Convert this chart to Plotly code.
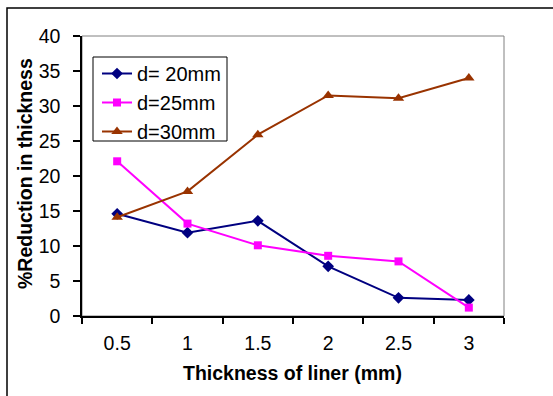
import plotly.graph_objects as go

# Liner thickness categories (mm)
thickness = ["0.5", "1", "1.5", "2", "2.5", "3"]

# % reduction in thickness for each punch diameter
red_d20 = [14.6, 11.9, 13.6, 7.1, 2.6, 2.3]
red_d25 = [22.1, 13.2, 10.1, 8.6, 7.8, 1.2]
red_d30 = [14.1, 17.8, 25.9, 31.5, 31.1, 34.0]

series_names = ["d= 20mm", "d=25mm", "d=30mm"]
y_ticks = [0, 5, 10, 15, 20, 25, 30, 35, 40]

FONT = "Liberation Sans, Arial, sans-serif"

W, H = 553, 396
L, R, T, B = 82, 49, 36, 80
PW, PH = W - L - R, H - T - B


def px_x(px):
    return (px - L) / PW


def px_y(py):
    return (H - B - py) / PH


fig = go.Figure()
fig.add_trace(go.Scatter(
    x=thickness, y=red_d20, name=series_names[0], mode="lines+markers",
    line=dict(color="#000080", width=2),
    marker=dict(symbol="diamond", size=9, color="#000080"),
))
fig.add_trace(go.Scatter(
    x=thickness, y=red_d25, name=series_names[1], mode="lines+markers",
    line=dict(color="#FF00FF", width=2),
    marker=dict(symbol="square", size=8, color="#FF00FF"),
))
fig.add_trace(go.Scatter(
    x=thickness, y=red_d30, name=series_names[2], mode="lines+markers",
    line=dict(color="#993300", width=2),
    marker=dict(symbol="triangle-up", size=10, color="#993300"),
))

fig.update_layout(
    width=W, height=H,
    margin=dict(l=L, r=R, t=T, b=B, pad=0),
    paper_bgcolor="white", plot_bgcolor="white",
    font=dict(family=FONT, size=19, color="black"),
    showlegend=True,
    legend=dict(
        x=px_x(97), y=px_y(54), xanchor="left", yanchor="top",
        borderwidth=0, bgcolor="rgba(0,0,0,0)",
        font=dict(family=FONT, size=20, color="black"),
        tracegroupgap=0,
    ),
    shapes=[
        # plot area frame (top / right edges show in gray)
        dict(type="rect", xref="paper", yref="paper", x0=0, y0=0, x1=1, y1=1,
             line=dict(color="#808080", width=1), layer="below"),
        # outer chart border
        dict(type="rect", xref="paper", yref="paper",
             x0=px_x(7), y0=px_y(8), x1=px_x(W + 40), y1=px_y(H + 40),
             line=dict(color="black", width=1.5), layer="below"),
        # legend frame
        dict(type="rect", xref="paper", yref="paper",
             x0=px_x(93), y0=px_y(141), x1=px_x(227), y1=px_y(57),
             line=dict(color="black", width=1), fillcolor="white",
             layer="below"),
    ],
    annotations=[
        dict(text="<b>Thickness of liner (mm)</b>", xref="paper", yref="paper",
             x=px_x(292.5), y=px_y(373), xanchor="center", yanchor="middle",
             showarrow=False, font=dict(family=FONT, size=19.5, color="black")),
        dict(text="<b>%Reduction in thickness</b>", xref="paper", yref="paper",
             x=px_x(25), y=px_y(174), xanchor="center", yanchor="middle",
             textangle=-90, showarrow=False,
             font=dict(family=FONT, size=19.5, color="black")),
    ],
)

fig.update_xaxes(
    type="category", range=[-0.5, 5.5],
    tickson="boundaries", ticks="outside", ticklen=6, tickcolor="black",
    tickwidth=1.5, showline=True, linecolor="black", linewidth=1.5,
    showgrid=False, zeroline=False, ticklabelstandoff=9,
    tickfont=dict(family=FONT, size=19.5, color="black"),
)
fig.update_yaxes(
    range=[0, 40], tickvals=y_ticks, ticks="outside", ticklen=7,
    tickcolor="black", tickwidth=1.5, showline=True, linecolor="black",
    linewidth=1.5, showgrid=False, zeroline=False, ticklabelstandoff=9,
    tickfont=dict(family=FONT, size=19.5, color="black"),
)

fig.write_html("out.html")
